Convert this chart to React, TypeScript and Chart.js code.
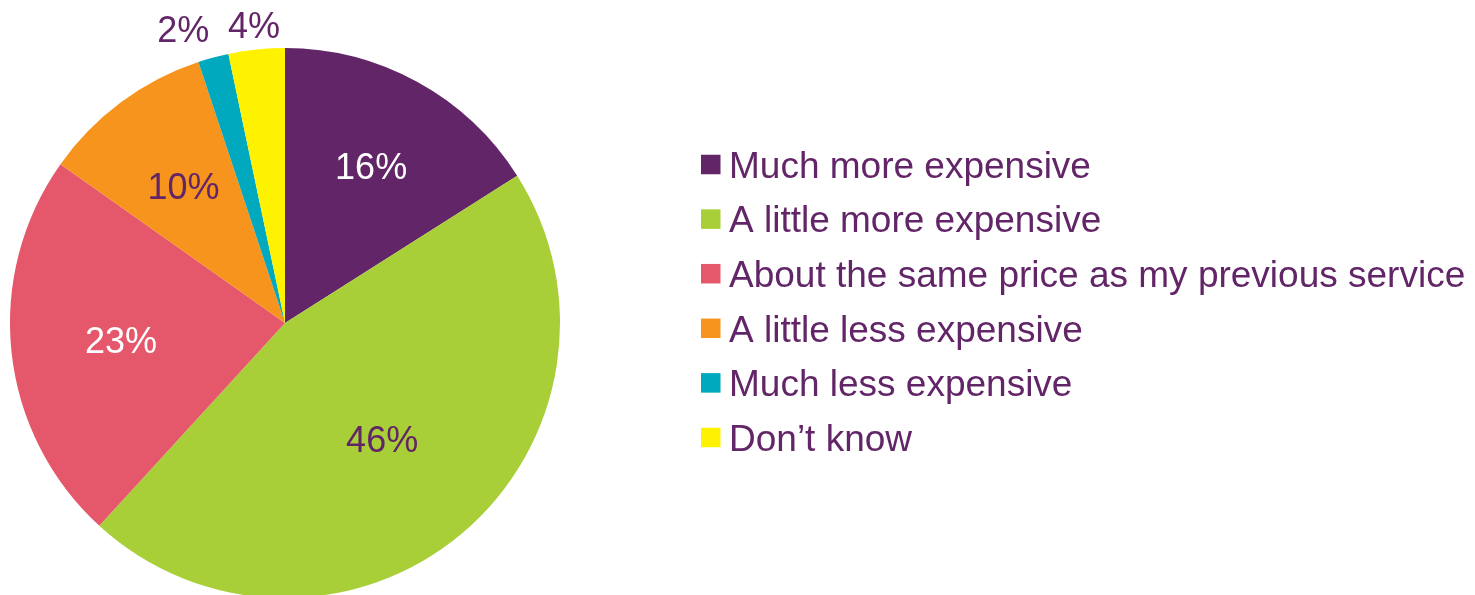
import React, { useEffect, useRef } from "react";
import { Chart, registerables } from "chart.js";

Chart.register(...registerables);

const categories: string[] = [
  "Much more expensive",
  "A little more expensive",
  "About the same price as my previous service",
  "A little less expensive",
  "Much less expensive",
  "Don\u2019t know",
];
const values: number[] = [16.0, 45.8, 23.0, 10.1, 1.8, 3.3];
const valueLabels: string[] = ["16%", "46%", "23%", "10%", "2%", "4%"];
const colors: string[] = ["#622567", "#A8CF38", "#E5576A", "#F7941D", "#00A9BD", "#FFF200"];

const PURPLE = "#622567";
const FONT = 'Arial, "Liberation Sans", sans-serif';

const labelPlugin = {
  id: "sliceLabels",
  afterDatasetsDraw(chart: any) {
    const ctx = chart.ctx;
    const meta = chart.getDatasetMeta(0);
    const radiusRatio = [0.65, 0.55, 0.6, 0.62, 1.13, 1.09];
    const angleNudge = [0, 0, 0, 0, -4, 0];
    const textColors = ["#FFFFFF", PURPLE, "#FFFFFF", PURPLE, PURPLE, PURPLE];
    const size = 36;
    ctx.save();
    ctx.font = `${size}px ${FONT}`;
    ctx.textAlign = "center";
    ctx.textBaseline = "alphabetic";
    meta.data.forEach((arc: any, i: number) => {
      const { x, y, startAngle, endAngle, outerRadius } = arc.getProps(
        ["x", "y", "startAngle", "endAngle", "outerRadius"],
        true
      );
      const mid = (startAngle + endAngle) / 2 + (angleNudge[i] * Math.PI) / 180;
      const r = outerRadius * radiusRatio[i];
      ctx.fillStyle = textColors[i];
      ctx.fillText(valueLabels[i], x + Math.cos(mid) * r, y + Math.sin(mid) * r + size * 0.358);
    });
    ctx.restore();
  },
  afterDraw(chart: any) {
    const ctx = chart.ctx;
    const labels = chart.data.labels as string[];
    const bg = chart.data.datasets[0].backgroundColor as string[];
    const x0 = 701;
    const y0 = 164.5;
    const step = 54.6;
    const box = 19.5;
    const size = 37;
    ctx.save();
    ctx.font = `${size}px ${FONT}`;
    ctx.textAlign = "left";
    ctx.textBaseline = "alphabetic";
    labels.forEach((lab, i) => {
      const cy = y0 + i * step;
      ctx.fillStyle = bg[i];
      ctx.fillRect(x0, cy - box / 2, box, box);
      ctx.fillStyle = PURPLE;
      ctx.fillText(lab, x0 + 28, cy + size * 0.358);
    });
    ctx.restore();
  },
};

export default function App() {
  const ref = useRef<HTMLCanvasElement | null>(null);
  useEffect(() => {
    document.body.style.margin = "0";
    if (!ref.current) return;
    const chart = new Chart(ref.current, {
      type: "pie",
      data: {
        labels: categories,
        datasets: [
          {
            data: values,
            backgroundColor: colors,
            borderWidth: 0,
          },
        ],
      },
      options: {
        responsive: false,
        animation: false,
        layout: { padding: { left: 10, top: 48, right: 915, bottom: 5 } },
        plugins: {
          legend: { display: false },
          tooltip: { enabled: false },
        },
      },
      plugins: [labelPlugin],
    });
    return () => chart.destroy();
  }, []);
  return (
    <div
      style={{
        position: "absolute",
        left: 0,
        top: 0,
        width: 1475,
        height: 595,
        overflow: "hidden",
        background: "#FFFFFF",
      }}
    >
      <canvas ref={ref} width={1475} height={603} style={{ display: "block" }} />
    </div>
  );
}
